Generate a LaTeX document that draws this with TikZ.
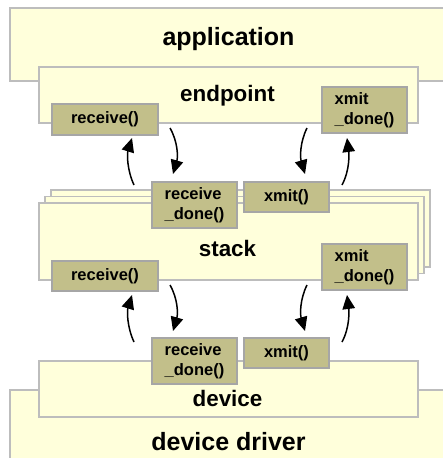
\documentclass[tikz,border=0pt]{standalone}
\usepackage{fontspec}
\setmainfont{Liberation Sans}
\usetikzlibrary{arrows.meta}
\definecolor{paper}{HTML}{FFFFDB}
\definecolor{rim}{HTML}{BDBDBD}
\definecolor{khaki}{HTML}{C2BF8A}
\definecolor{khakirim}{HTML}{A6A6A6}

\begin{document}
\begin{tikzpicture}[x=1pt,y=-1pt,
  layer/.style={draw=rim, line width=1.5pt, fill=paper, inner sep=0pt, outer sep=0pt, anchor=north west},
  func/.style={draw=khakirim, line width=1.5pt, fill=khaki, inner sep=0pt, outer sep=0pt,
    anchor=north west, align=left, font=\bfseries\fontsize{16.5}{20.5}\selectfont},
  biglabel/.style={anchor=base, inner sep=0pt, font=\bfseries\fontsize{25}{30}\selectfont},
  midlabel/.style={anchor=base, inner sep=0pt, font=\bfseries\fontsize{22.4}{27}\selectfont},
  call/.style={line width=1.5pt, -{Triangle[length=14pt,width=12.5pt]}}]
\useasboundingbox (0,0) rectangle (443,458);
\clip (0,0) rectangle (443,458);

% application with its endpoint
\node[layer, minimum width=442pt, minimum height=73pt] (app) at (10,8) {};
\node[biglabel] (applabel) at (228.5,45) {application};
\node[layer, minimum width=379pt, minimum height=56pt] (ep) at (39,67) {};
\node[midlabel] (eplabel) at (227.5,101) {endpoint};
\node[func, minimum width=106pt, minimum height=31pt] (eprecv) at (52,104) {receive()};
\node[func, minimum width=85pt, minimum height=46pt] (epxdone) at (322,87) {xmit\\\_done()};

% stacked protocol layers
\node[layer, minimum width=379pt, minimum height=77pt] (stackc) at (51,190) {};
\node[layer, minimum width=379pt, minimum height=77pt] (stackb) at (45,196.5) {};
\node[layer, minimum width=379pt, minimum height=77pt] (stacka) at (39,203) {};
\node[midlabel] (stacklabel) at (227.5,256) {stack};
\node[func, minimum width=85pt, minimum height=46pt] (strdone) at (152,182) {receive\\\_done()};
\node[func, minimum width=85pt, minimum height=30pt] (stxmit) at (244,182) {xmit()};
\node[func, minimum width=106pt, minimum height=30pt] (strecv) at (52,261) {receive()};
\node[func, minimum width=85pt, minimum height=46pt] (stxdone) at (322,244) {xmit\\\_done()};

% driver with its device
\node[layer, minimum width=442pt, minimum height=80pt] (drv) at (10,390) {};
\node[biglabel] (drvlabel) at (228.5,450) {device driver};
\node[layer, minimum width=379pt, minimum height=56pt] (dev) at (39,361) {};
\node[midlabel] (devlabel) at (227.5,406.5) {device};
\node[func, minimum width=85pt, minimum height=46pt] (devrdone) at (152,338) {receive\\\_done()};
\node[func, minimum width=85pt, minimum height=30pt] (devxmit) at (244,338) {xmit()};

% call arrows between endpoint and stack
\coordinate (u1s) at (134,185); \coordinate (u1e) at (132,138);
\coordinate (u2s) at (170,128); \coordinate (u2e) at (173,174);
\coordinate (u3s) at (307,128); \coordinate (u3e) at (305,174);
\coordinate (u4s) at (342,185); \coordinate (u4e) at (347,138);
\draw[call] (u1s) .. controls (127,170) and (127,154) .. (u1e);
\draw[call] (u2s) .. controls (178,142) and (178,157) .. (u2e);
\draw[call] (u3s) .. controls (300,142) and (300,157) .. (u3e);
\draw[call] (u4s) .. controls (350,170) and (349,154) .. (u4e);

% call arrows between stack and device
\coordinate (l1s) at (134,342); \coordinate (l1e) at (132,295);
\coordinate (l2s) at (170,285); \coordinate (l2e) at (173,331);
\coordinate (l3s) at (307,285); \coordinate (l3e) at (305,331);
\coordinate (l4s) at (342,342); \coordinate (l4e) at (347,295);
\draw[call] (l1s) .. controls (127,327) and (127,311) .. (l1e);
\draw[call] (l2s) .. controls (178,299) and (178,314) .. (l2e);
\draw[call] (l3s) .. controls (300,299) and (300,314) .. (l3e);
\draw[call] (l4s) .. controls (350,327) and (349,311) .. (l4e);
\end{tikzpicture}
\end{document}
